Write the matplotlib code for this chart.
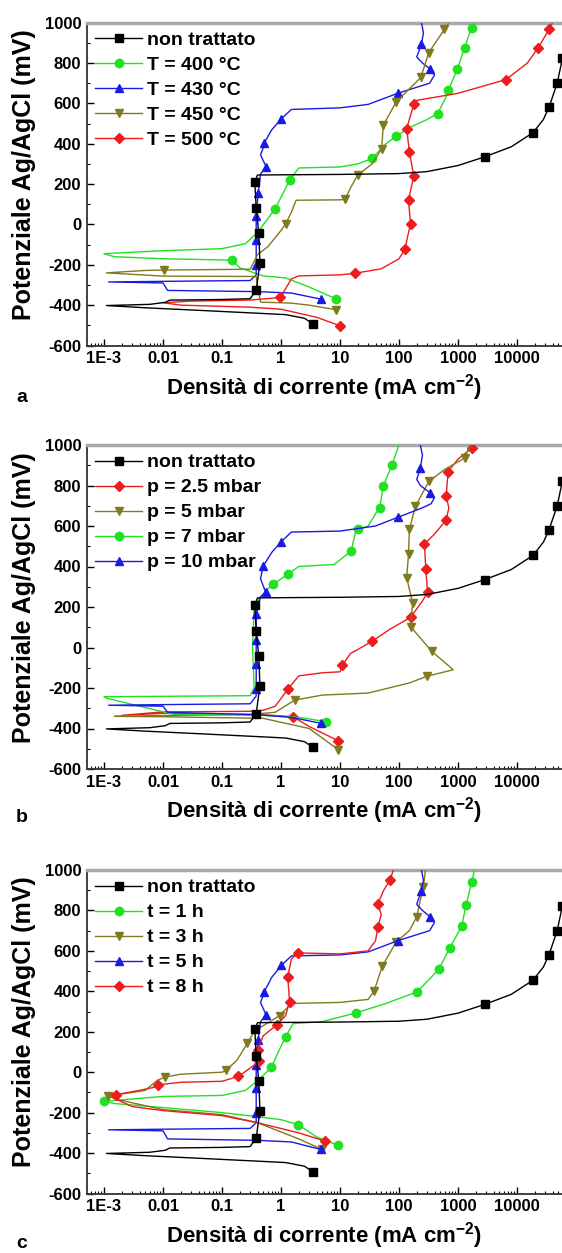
import matplotlib
matplotlib.use("Agg")
import matplotlib.pyplot as plt
from matplotlib.ticker import FixedLocator, LogLocator, MultipleLocator, NullFormatter

plt.rcParams["font.family"] = ["Liberation Sans", "DejaVu Sans"]
plt.rcParams["font.weight"] = "bold"
plt.rcParams["axes.unicode_minus"] = False
plt.rcParams["mathtext.fontset"] = "custom"
plt.rcParams["mathtext.bf"] = "Liberation Sans:bold"
plt.rcParams["mathtext.rm"] = "Liberation Sans:bold"
plt.rcParams["mathtext.default"] = "bf"

# x tick values and their printed labels
xtick_vals = [1e-3, 1e-2, 1e-1, 1, 10, 100, 1000, 10000]
xtick_labels = ["1E-3", "0.01", "0.1", "1", "10", "100", "1000", "10000"]

# non trattato (same curve in all three panels)
nt_x = [3.5, 2.5, 1.2, 0.4, 0.05, 0.005, 1.1e-3, 0.006, 0.011, 0.013, 0.1, 0.3, 0.38, 0.44, 0.42, 0.38,
        0.36, 0.4, 1, 10, 100, 300, 1000, 2830, 8000, 18700, 28000, 35000, 48000, 59000, 66000]
nt_y = [-493, -465, -447, -440, -427, -413, -402, -396, -386, -375, -372, -368, -326, -190, -42, 81,
        212, 245, 246, 248, 252, 262, 292, 335, 385, 455, 520, 582, 700, 824, 1000]
nt_mk = [0, 12, 13, 14, 15, 16, 23, 25, 27, 28, 29]

# panel a: temperature
a400_x = [8.7, 3, 1.2, 0.5, 0.2, 0.148, 0.01, 1.5e-3, 1.0e-3, 0.01, 0.1, 0.25, 0.4, 0.79, 1.2, 1.4,
          2, 10, 20, 35, 60, 89, 150, 300, 450, 600, 690, 980, 1290, 1700, 1800]
a400_y = [-370, -310, -265, -255, -215, -177, -170, -160, -145, -130, -120, -95, -40, 76, 180, 220,
          280, 285, 300, 327, 400, 437, 480, 520, 549, 620, 667, 770, 877, 975, 1000]
a400_mk = [0, 5, 13, 15, 19, 21, 24, 26, 27, 28, 29]

a430_x = [4.7, 1.5, 0.4, 0.012, 0.01, 1.2e-3, 0.01, 0.3, 0.38, 0.38, 0.38, 0.38, 0.41, 0.45, 0.56,
          0.45, 0.5, 0.52, 0.7, 1.02, 1.5, 10, 30, 95, 200, 330, 400, 340, 250, 200, 240, 260, 240]
a430_y = [-370, -340, -333, -327, -290, -285, -282, -278, -250, -201, -75, 40, 155, 250, 286,
          345, 380, 404, 470, 524, 570, 578, 595, 650, 680, 700, 740, 770, 800, 830, 893, 950, 1000]
a430_mk = [0, 9, 10, 11, 12, 14, 17, 19, 23, 27, 30]

a450_x = [8.7, 3, 1.5, 0.45, 0.4, 0.38, 0.01, 1.1e-3, 0.005, 0.0103, 0.3, 0.4, 0.6, 1, 1.2, 1.5,
          1.8, 10, 12.3, 15, 20, 35, 51, 54, 89, 235, 320, 590, 700]
a450_y = [-423, -400, -390, -385, -300, -258, -256, -240, -228, -226, -222, -150, -110, -30, 4, 60,
          120, 122, 125, 180, 245, 300, 376, 491, 606, 729, 852, 967, 1000]
a450_mk = [0, 9, 14, 18, 20, 22, 23, 24, 25, 26, 27]

a500_x = [10, 4, 1, 0.3, 0.02, 0.01, 0.03, 0.3, 0.98, 1.5, 2, 10, 17.8, 50, 100, 127, 140, 157,
          145, 178, 150, 135, 178, 200, 1000, 6500, 15000, 23000, 35000, 40000]
a500_y = [-502, -460, -420, -410, -400, -388, -380, -375, -362, -270, -255, -250, -242, -220, -170,
          -121, -60, 2, 122, 240, 360, 475, 595, 615, 650, 718, 800, 877, 967, 1000]
a500_mk = [0, 8, 12, 15, 17, 18, 19, 20, 21, 22, 25, 27, 28]

# panel b: pressure
b25_x = [9.4, 3, 1.6, 0.5, 0.01, 2e-3, 0.01, 0.3, 0.5, 0.8, 1.3, 2, 5, 10, 11, 15, 20, 35, 70, 157,
         250, 305, 285, 270, 400, 630, 700, 630, 680, 1000, 1700, 1900]
b25_y = [-461, -390, -342, -332, -325, -335, -318, -315, -310, -290, -207, -140, -125, -120, -88,
         -30, -10, 31, 90, 149, 230, 272, 386, 512, 560, 629, 690, 746, 869, 930, 984, 1000]
b25_mk = [0, 2, 10, 14, 17, 19, 21, 22, 23, 25, 27, 28, 30]

b5_x = [9.4, 3, 0.5, 0.01, 1.5e-3, 0.01, 0.3, 0.8, 1.7, 5, 30, 150, 300, 830, 360, 157, 170, 135,
        145, 150, 190, 320, 600, 1290, 1600]
b5_y = [-505, -400, -350, -342, -340, -336, -330, -320, -260, -235, -225, -175, -142, -110, -19,
        103, 220, 345, 460, 583, 697, 820, 880, 935, 1000]
b5_mk = [0, 8, 12, 14, 15, 16, 17, 18, 19, 20, 21, 23]

b7_x = [5.8, 2, 0.5, 0.015, 1.1e-3, 1e-3, 0.01, 0.3, 0.35, 0.33, 0.35, 0.45, 0.6, 0.74, 1.3, 2, 8,
        15.5, 18, 20, 30, 40, 47, 54, 76, 100]
b7_y = [-366, -345, -335, -330, -250, -243, -241, -238, -200, 0, 200, 250, 290, 312, 362, 400, 410,
        477, 560, 583, 600, 660, 689, 796, 902, 1000]
b7_mk = [0, 13, 14, 17, 19, 22, 23, 24]

b10_x = [4.7, 1.5, 0.4, 0.012, 0.01, 1.2e-3, 0.01, 0.3, 0.38, 0.38, 0.38, 0.38, 0.38, 0.45, 0.55,
         0.45, 0.5, 0.7, 1.0, 1.5, 10, 40, 96, 250, 350, 400, 340, 230, 200, 230, 250, 230]
b10_y = [-374, -345, -332, -320, -290, -285, -282, -278, -240, -203, -83, 35, 165, 250, 272, 340,
         403, 470, 521, 570, 575, 600, 643, 690, 710, 740, 763, 800, 830, 885, 950, 1000]
b10_mk = [0, 9, 10, 11, 12, 14, 16, 18, 22, 26, 29]

# panel c: time
c1_x = [9.3, 4, 1.95, 1, 0.4, 0.1, 0.01, 1.5e-3, 1e-3, 0.01, 0.1, 0.25, 0.45, 0.69, 0.9, 1.2, 1.6,
        5, 19, 60, 205, 470, 730, 1150, 1380, 1700, 1900]
c1_y = [-362, -320, -259, -235, -220, -200, -175, -155, -144, -120, -115, -90, -30, 25, 100, 176,
        240, 250, 294, 340, 398, 508, 616, 721, 829, 939, 1000]
c1_mk = [0, 2, 8, 13, 15, 18, 20, 21, 22, 23, 24, 25]

c3_x = [5, 2, 0.4, 0.1, 0.01, 2e-3, 1.15e-3, 0.005, 0.008, 0.011, 0.02, 0.1, 0.118, 0.18, 0.27,
        0.35, 0.5, 0.95, 1.5, 10, 30, 38, 52, 90, 150, 200, 230, 260, 280]
c3_y = [-382, -330, -250, -210, -185, -140, -119, -90, -40, -24, -10, 0, 9, 60, 143, 200, 230,
        280, 340, 345, 360, 403, 524, 645, 700, 768, 850, 915, 1000]
c3_mk = [0, 6, 9, 12, 14, 17, 21, 22, 23, 25, 27]

c5_x = [4.7, 1.5, 0.4, 0.012, 0.01, 1.2e-3, 0.01, 0.3, 0.38, 0.38, 0.38, 0.38, 0.41, 0.45, 0.56,
        0.45, 0.5, 0.52, 0.7, 1.02, 1.5, 10, 30, 95, 200, 330, 400, 340, 250, 200, 240, 260, 240]
c5_y = [-382, -345, -337, -330, -290, -285, -282, -278, -250, -201, -78, 37, 160, 250, 283, 345,
        380, 398, 470, 529, 575, 580, 595, 650, 680, 700, 740, 767, 800, 830, 898, 950, 1000]
c5_mk = [0, 9, 10, 11, 12, 14, 17, 19, 23, 27, 30]

c8_x = [5.6, 2, 0.4, 0.1, 0.01, 3e-3, 1.4e-3, 1.6e-3, 4e-3, 7e-3, 8.3e-3, 0.02, 0.1, 0.19, 0.3,
        0.42, 0.4, 0.5, 0.85, 1.2, 1.4, 1.3, 1.5, 1.95, 10, 30, 40, 44, 50, 44, 55, 71, 80]
c8_y = [-341, -300, -250, -215, -190, -170, -125, -111, -90, -75, -62, -50, -45, -21, 20, 53, 110,
        180, 234, 280, 349, 472, 560, 590, 585, 600, 650, 718, 780, 833, 900, 951, 1000]
c8_mk = [0, 7, 10, 13, 15, 16, 18, 20, 21, 23, 27, 29, 31]

a_labels = ["non trattato", "T = 400 °C", "T = 430 °C", "T = 450 °C", "T = 500 °C"]
b_labels = ["non trattato", "p = 2.5 mbar", "p = 5 mbar", "p = 7 mbar", "p = 10 mbar"]
c_labels = ["non trattato", "t = 1 h", "t = 3 h", "t = 5 h", "t = 8 h"]

BLACK, GREEN, BLUE, OLIVE, RED = "#000000", "#22e022", "#1a1ae6", "#807a1e", "#ee1c1c"
STY = {"s": 5.5, "o": 6, "^": 6, "v": 6, "D": 5}

panels = [
    ("a", a_labels, [(a400_x, a400_y, a400_mk, GREEN, "o"), (a430_x, a430_y, a430_mk, BLUE, "^"),
                     (a450_x, a450_y, a450_mk, OLIVE, "v"), (a500_x, a500_y, a500_mk, RED, "D")],
     (22.7, 345.5), 398),
    ("b", b_labels, [(b25_x, b25_y, b25_mk, RED, "D"), (b5_x, b5_y, b5_mk, OLIVE, "v"),
                     (b7_x, b7_y, b7_mk, GREEN, "o"), (b10_x, b10_y, b10_mk, BLUE, "^")],
     (445, 769), 818),
    ("c", c_labels, [(c1_x, c1_y, c1_mk, GREEN, "o"), (c3_x, c3_y, c3_mk, OLIVE, "v"),
                     (c5_x, c5_y, c5_mk, BLUE, "^"), (c8_x, c8_y, c8_mk, RED, "D")],
     (870, 1193.5), 1243),
]

W, H = 562, 1253
fig = plt.figure(figsize=(W / 100, H / 100), dpi=100)

for tag, labels, series, (ytop, ybot), tag_y in panels:
    ax = fig.add_axes([86.7 / W, 1 - ybot / H, 1 - 86.7 / W, (ybot - ytop) / H])
    ax.set_xscale("log")
    handles = []
    h, = ax.plot(nt_x, nt_y, color=BLACK, lw=1.0, marker="s", ms=STY["s"], markevery=nt_mk, zorder=5)
    handles.append(h)
    for sx, sy, smk, col, m in series:
        h, = ax.plot(sx, sy, color=col, lw=1.0, marker=m, ms=STY[m], markevery=smk, zorder=3)
        handles.append(h)

    ax.set_xlim(10 ** -3.293, 10 ** 4.763)
    ax.set_ylim(-600, 1000)
    ax.xaxis.set_major_locator(FixedLocator(xtick_vals))
    ax.set_xticklabels(xtick_labels)
    ax.xaxis.set_minor_locator(LogLocator(base=10, subs=range(2, 10), numticks=20))
    ax.xaxis.set_minor_formatter(NullFormatter())
    ax.yaxis.set_major_locator(MultipleLocator(200))
    ax.yaxis.set_minor_locator(MultipleLocator(100))
    ax.tick_params(which="major", direction="in", length=5, width=1, labelsize=12, pad=4)
    ax.tick_params(which="minor", direction="in", length=2.5, width=0.8)
    ax.tick_params(axis="x", which="both", top=False)
    ax.tick_params(axis="y", which="both", right=False)

    ax.spines["right"].set_visible(False)
    ax.spines["top"].set_color("#a8a8a8")
    ax.spines["top"].set_linewidth(2.5)
    for s in ("left", "bottom"):
        ax.spines[s].set_color("#333333")
        ax.spines[s].set_linewidth(1.3)

    ax.set_xlabel(r"Densità di corrente (mA cm$^{-2}$)", fontsize=16, fontweight="bold")
    ax.set_ylabel("Potenziale Ag/AgCl (mV)", fontsize=18, fontweight="bold")
    ax.xaxis.set_label_coords(0.5, -0.082)
    ax.yaxis.set_label_coords(-0.107, 0.53)

    ax.legend(handles, labels, loc="upper left", frameon=False, fontsize=14, numpoints=1,
              handlelength=2.4, handletextpad=0.25, labelspacing=0.38, borderaxespad=0.0,
              borderpad=0.45)

    fig.text(22 / W, 1 - tag_y / H, tag, fontsize=14, fontweight="bold", ha="center", va="center")

fig.savefig("out.png", dpi=100)
